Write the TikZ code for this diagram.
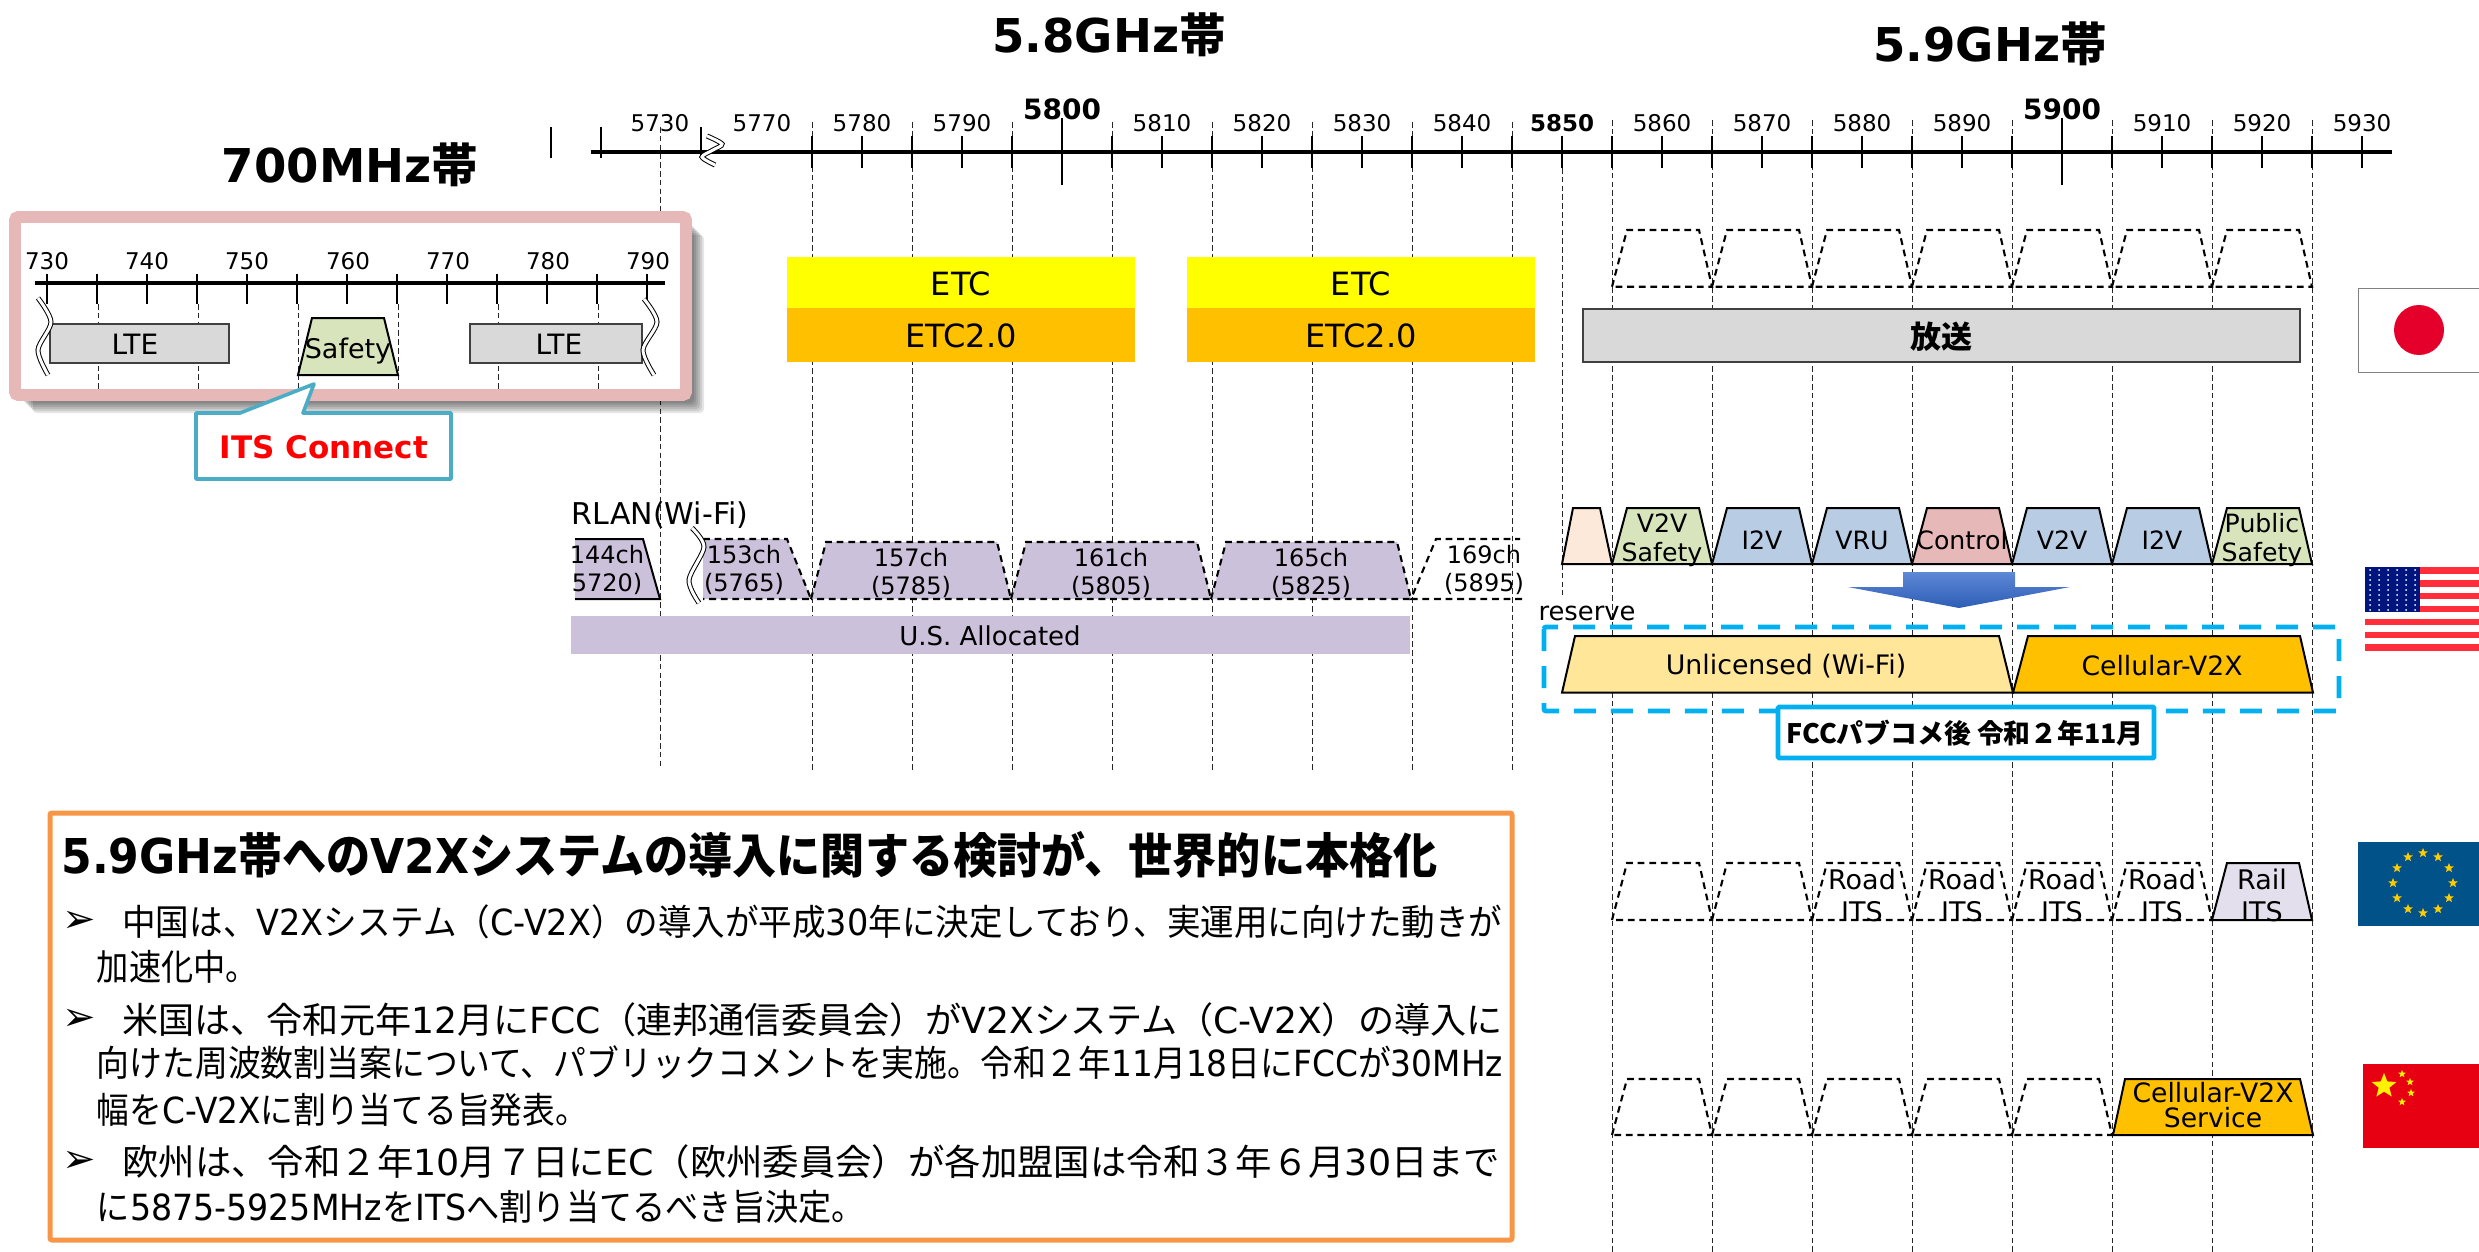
\documentclass[tikz,border=0pt]{standalone}
\usepackage{graphicx}
\usepackage{fontspec}
\setmainfont{DejaVu Sans}
\newfontfamily\jp{Noto Sans CJK JP}
\usetikzlibrary{shapes.geometric}
\definecolor{pinkband}{HTML}{E6B8B7}
\definecolor{greenband}{HTML}{D8E4BC}
\definecolor{blueband}{HTML}{B8CCE4}
\definecolor{peachband}{HTML}{FDE9D9}
\definecolor{lilacband}{HTML}{CCC1DA}
\definecolor{railband}{HTML}{E4DFEC}
\definecolor{grayband}{HTML}{D9D9D9}
\definecolor{etcyellow}{HTML}{FFFF00}
\definecolor{etcorange}{HTML}{FFC000}
\definecolor{wifiyellow}{HTML}{FFE699}
\definecolor{callblue}{HTML}{4BACC6}
\definecolor{fccblue}{HTML}{00B0F0}
\definecolor{boxorange}{HTML}{F79646}
\definecolor{arrowtop}{HTML}{5F88D6}
\definecolor{arrowbot}{HTML}{2C5DB5}
\definecolor{jpred}{HTML}{E4002B}
\definecolor{usred}{HTML}{FF2E3A}
\definecolor{usnavy}{HTML}{00147E}
\definecolor{eublue}{HTML}{005288}
\definecolor{eugold}{HTML}{FFCC00}
\definecolor{cnred}{HTML}{E60012}
\newcommand{\lat}[1]{{\rmfamily #1}}
\tikzset{
  axisline/.style={line width=2pt},
  tick/.style={line width=0.8pt},
  bandline/.style={black!85,line width=0.5pt,dash pattern=on 2.8pt off 1.6pt},
  chdash/.style={black,line width=1.05pt,dash pattern=on 3.4pt off 2.4pt},
  chsolid/.style={black,line width=1pt},
  graybox/.style={fill=grayband,draw=black!75,line width=0.8pt},
  wavebreak/.style={draw=black,line width=0.5pt,double=white,double distance=1.5pt},
  lab/.style={inner sep=0pt,font=\fontsize{11.5}{14}\selectfont},
  blab/.style={inner sep=0pt,font=\fontsize{11.5}{14}\selectfont\bfseries},
  txt/.style={inner sep=0pt,align=center,font=\fontsize{12}{14.5}\selectfont},
  big/.style={inner sep=0pt,align=center,font=\fontsize{#1}{#1}\selectfont},
  title/.style={inner sep=0pt,font=\fontsize{23.3}{24}\selectfont\bfseries},
  memo/.style={inner sep=0pt,anchor=west,font=\fontsize{18}{20}\selectfont\jp},
  eustar/.style={star,star points=5,star point ratio=2.3,inner sep=0pt,minimum size=5pt,fill=eugold},
}
\begin{document}
\begin{tikzpicture}[x=0.5pt,y=-0.5pt]
\useasboundingbox (0,0) rectangle (2479,1252);
% band titles
\node[title] (t58) at (1109,35) {5.8GHz{\jp 帯}};
\node[title] (t59) at (1990,44) {5.9GHz{\jp 帯}};
\node[title] (t700) at (350,165) {700MHz{\jp 帯}};
% vertical guides
\draw[bandline] (660,127) -- (660,768);
\foreach \x in {812,912,...,1512}
    \draw[bandline] (\x,122) -- (\x,772);
\foreach \x in {1612,1712,...,2312}
    \draw[bandline] (\x,120) -- (\x,1252);
\draw[bandline] (1562,168) -- (1562,595);
% top axis
\draw[axisline] (591,152) -- (2392,152);
\foreach \x in {551,601,701}
    \draw[tick] (\x,127) -- (\x,158);
\foreach \x in {812,862,...,2362}
    \draw[tick] (\x,136) -- (\x,168);
\draw[tick] (1062,118) -- (1062,185);
\draw[tick] (2062,118) -- (2062,185);
\draw[wavebreak] plot[smooth] coordinates {(707,136) (722,144) (713,150) (702,157) (715,165)};
\foreach \x/\xtext in {660/5730,762/5770,862/5780,962/5790,1162/5810,1262/5820,1362/5830,1462/5840,1662/5860,1762/5870,1862/5880,1962/5890,2162/5910,2262/5920,2362/5930}
    \node[lab] (f\xtext) at (\x,123) {\xtext};
\node[blab] (f5850) at (1562,123) {5850};
\node[big=14,font=\fontsize{14}{14}\selectfont\bfseries] (f5800) at (1062,109) {5800};
\node[big=14,font=\fontsize{14}{14}\selectfont\bfseries] (f5900) at (2062,109) {5900};
% 700MHz frame
\foreach \s in {8,10,...,18}
    \fill[black,opacity=0.1,rounded corners=2pt] (15+\s,217+\s) rectangle (686+\s,395+\s);
\draw[pinkband,fill=white,line width=5.8pt,rounded corners=1.5pt] (15,217) rectangle (686,395);
\foreach \x in {98,198,298,398,498,598}
    \draw[bandline] (\x,304) -- (\x,389);
\draw[axisline] (35,283) -- (665,283);
\foreach \x in {47,97,...,647}
    \draw[tick] (\x,274) -- (\x,304);
\foreach \x/\xtext in {47/730,147/740,247/750,348/760,448/770,548/780,648/790}
    \node[lab] (g\xtext) at (\x,261) {\xtext};
\draw[graybox] (50,324) rectangle (229,363);
\draw[graybox] (470,324) rectangle (642,363);
\node[big=14] (lte1) at (135,344) {LTE};
\node[big=14] (lte2) at (559,344) {LTE};
\draw[wavebreak] plot[smooth] coordinates {(38,298) (51,322) (38,350) (48,375)};
\draw[wavebreak] plot[smooth] coordinates {(644,299) (657,322) (643,350) (654,375)};
\draw[chsolid,fill=greenband] (298,375) -- (312,318) -- (384,318) -- (398,375) -- cycle;
\node[big=13.5] (safety700) at (348,351) {Safety};
% ITS Connect callout
\draw[callblue,fill=white,line width=1.8pt,line join=round] (196,413) -- (240,413) -- (314,384) -- (303,413) -- (451,413) -- (451,479) -- (196,479) -- cycle;
\node[big=15.5,font=\fontsize{15.5}{15.5}\selectfont\bfseries,text=red] (its) at (324,447) {ITS Connect};
% ETC
\foreach \x/\n in {787/a,1187/b} {
    \fill[etcyellow] (\x,257) rectangle (\x+348,308);
    \fill[etcorange] (\x,308) rectangle (\x+348,362);
    \node[big=16] (etc\n) at (\x+174,284) {ETC};
    \node[big=16] (etctwo\n) at (\x+174,336) {ETC2.0};
}
% Japan
\foreach \x in {1612,1712,...,2212}
    \draw[chdash] (\x,286.7) -- (\x+15,230) -- (\x+87,230) -- (\x+100,286.7) -- cycle;
\draw[graybox] (1583,309) rectangle (2300,362);
\node[big=15.5,font=\fontsize{15.5}{15.5}\selectfont\jp\bfseries] (bcast) at (1941,337) {放送};
\draw[gray,fill=white,line width=0.5pt] (2358,288) rectangle (2490,372);
\fill[jpred] (2419,330) circle (12.5pt);
% RLAN
\node[big=15] (rlan) at (660,515) {RLAN(Wi-Fi)};
\fill[lilacband] (575,539) -- (643,539) -- (660,599) -- (575,599) -- cycle;
\draw[chsolid] (575,539) -- (643,539) -- (660,599) -- (575,599);
\node[txt] (c144) at (607,570) {144ch\\[-0.5pt]5720)};
\fill[lilacband] (703,539) -- (787,539) -- (811,599) -- (703,599) -- cycle;
\draw[chdash] (703,539) -- (787,539) -- (811,599) -- (703,599);
\draw[wavebreak] plot[smooth] coordinates {(692,528) (704,547) (689,580) (699,603)};
\node[txt] (c153) at (744,570) {153ch\\[-0.5pt](5765)};
\foreach \x/\ntext/\ftext in {811/157/5785,1011/161/5805,1211/165/5825} {
    \draw[chdash,fill=lilacband] (\x,599) -- (\x+15,542) -- (\x+186,542) -- (\x+200,599) -- cycle;
    \node[txt] (c\ntext) at (\x+100,573) {\ntext ch\\[-0.5pt](\ftext)};
}
\draw[chdash] (1522,599) -- (1411,599) -- (1436,539) -- (1520,539);
\node[txt] (c169) at (1484,570) {169ch\\[-0.5pt](5895)};
\fill[lilacband] (571,616) rectangle (1410,654);
\node[big=13] (usalloc) at (990,636) {U.S. Allocated};
% USA
\draw[chsolid,fill=peachband] (1562,564) -- (1573,508) -- (1600,508) -- (1612,564) -- cycle;
\foreach \x/\fc/\ntext/\n in {1612/greenband/{V2V\\Safety}/a,1712/blueband/I2V/b,1812/blueband/VRU/c,1912/pinkband/Control/d,2012/blueband/V2V/e,2112/blueband/I2V/f,2212/greenband/{Public\\Safety}/g} {
    \draw[chsolid,fill=\fc] (\x,564) -- (\x+15,508) -- (\x+87,508) -- (\x+100,564) -- cycle;
    \node[txt,font=\fontsize{12.6}{14.5}\selectfont] (us\n) at (\x+50,540) {\ntext};
}
\shade[top color=arrowtop,bottom color=arrowbot] (1903,572) -- (2015,572) -- (2015,587) -- (2070,587) -- (1959,608) -- (1848,587) -- (1903,587) -- cycle;
\node[big=12.9] (reserve) at (1587,613) {reserve};
\draw[fccblue,line width=2.4pt,dash pattern=on 11pt off 7.5pt,rounded corners=1pt] (1544,627) rectangle (2339,711);
\draw[chsolid,fill=wifiyellow] (1562,692.7) -- (1575,636) -- (1999,636) -- (2013,692.7) -- cycle;
\draw[chsolid,fill=etcorange] (2013,692.7) -- (2028,636) -- (2300,636) -- (2313,692.7) -- cycle;
\node[big=13.4] (wifi) at (1786,666) {Unlicensed (Wi-Fi)};
\node[big=13.3] (cv2x) at (2162,666) {Cellular-V2X};
\draw[fccblue,fill=white,line width=2.3pt,rounded corners=0.5pt] (1778,707) rectangle (2154,758);
\node[big=13.4,font=\fontsize{13.4}{13.4}\selectfont\jp\bfseries] (fcc) at (1965,733) {FCCパブコメ後 令和２年11月};
% USA flag
\foreach \y in {0,1,...,6}
    \fill[usred] (2365,567+12.9*\y) rectangle (2490,573.6+12.9*\y);
\fill[usnavy] (2365,567) rectangle (2420,612);
\foreach \i in {0,1,...,5}
    \foreach \j in {0,1,...,8}
        \fill[white] (2370+9*\i,570+5*\j) circle (0.5pt);
% Europe
\foreach \x in {1612,1712}
    \draw[chdash] (\x,920) -- (\x+15,863) -- (\x+87,863) -- (\x+100,920) -- cycle;
\foreach \x/\n in {1812/a,1912/b,2012/c,2112/d} {
    \draw[chdash] (\x,920) -- (\x+15,863) -- (\x+87,863) -- (\x+100,920) -- cycle;
    \node[big=13.5,font=\fontsize{13.5}{16}\selectfont] (eu\n) at (\x+50,895) {Road\\ITS};
}
\draw[chsolid,fill=railband] (2212,920) -- (2227,863) -- (2299,863) -- (2312,920) -- cycle;
\node[big=13.5,font=\fontsize{13.5}{16}\selectfont] (rail) at (2262,895) {Rail\\ITS};
\fill[eublue] (2358,842) rectangle (2490,926);
\foreach \a in {0,30,...,330}
    \node[eustar] (eus\a) at ({2423+30*cos(\a)},{883+30*sin(\a)}) {};
% China
\foreach \x in {1612,1712,...,2012}
    \draw[chdash] (\x,1135) -- (\x+15,1079) -- (\x+87,1079) -- (\x+100,1135) -- cycle;
\draw[chsolid,fill=etcorange] (2113,1135) -- (2125,1079) -- (2300,1079) -- (2313,1135) -- cycle;
\node[big=13.3,font=\fontsize{13.3}{12.5}\selectfont] (cnservice) at (2213,1105) {Cellular-V2X\\Service};
\fill[cnred] (2363,1064) rectangle (2490,1148);
\node[eustar,minimum size=13pt,fill=yellow] (cnbig) at (2384,1086) {};
\foreach \x/\y/\n in {2402/1074/a,2410/1082/b,2411/1093/c,2402/1102/d}
    \node[eustar,minimum size=4pt,fill=yellow] (cn\n) at (\x,\y) {};
% summary box
\draw[boxorange,fill=white,line width=2.5pt,rounded corners=1pt] (50,813) rectangle (1512,1240);
\node[memo,font=\fontsize{24}{26}\selectfont\jp\bfseries] (head) at (61,855) {\resizebox{688pt}{\height}{\lat{\bfseries 5.9GHz}帯への\lat{\bfseries V2X}システムの導入に関する検討が、世界的に本格化}};
\foreach \y/\n in {922/a,1020/b,1162/c}
    \node[memo,font=\fontsize{20}{20}\selectfont\rmfamily] (bul\n) at (62,\y) {➢};
\node[memo] (m1) at (122,922) {\resizebox{690pt}{\height}{中国は、\lat{V2X}システム（\lat{C-V2X}）の導入が平成\lat{30}年に決定しており、実運用に向けた動きが}};
\node[memo] (m2) at (96.5,967) {\resizebox{80.5pt}{\height}{加速化中。}};
\node[memo] (m3) at (122,1020) {\resizebox{690pt}{\height}{米国は、令和元年\lat{12}月に\lat{FCC}（連邦通信委員会）が\lat{V2X}システム（\lat{C-V2X}）の導入に}};
\node[memo] (m4) at (96.5,1063) {\resizebox{703pt}{\height}{向けた周波数割当案について、パブリックコメントを実施。令和２年\lat{11}月\lat{18}日に\lat{FCC}が\lat{30MHz}}};
\node[memo] (m5) at (96.5,1110) {\resizebox{245.5pt}{\height}{幅を\lat{C-V2X}に割り当てる旨発表。}};
\node[memo] (m6) at (122,1162) {\resizebox{689pt}{\height}{欧州は、令和２年\lat{10}月７日に\lat{EC}（欧州委員会）が各加盟国は令和３年６月\lat{30}日まで}};
\node[memo] (m7) at (96.5,1207) {\resizebox{384pt}{\height}{に\lat{5875-5925MHz}を\lat{ITS}へ割り当てるべき旨決定。}};
\end{tikzpicture}
\end{document}
